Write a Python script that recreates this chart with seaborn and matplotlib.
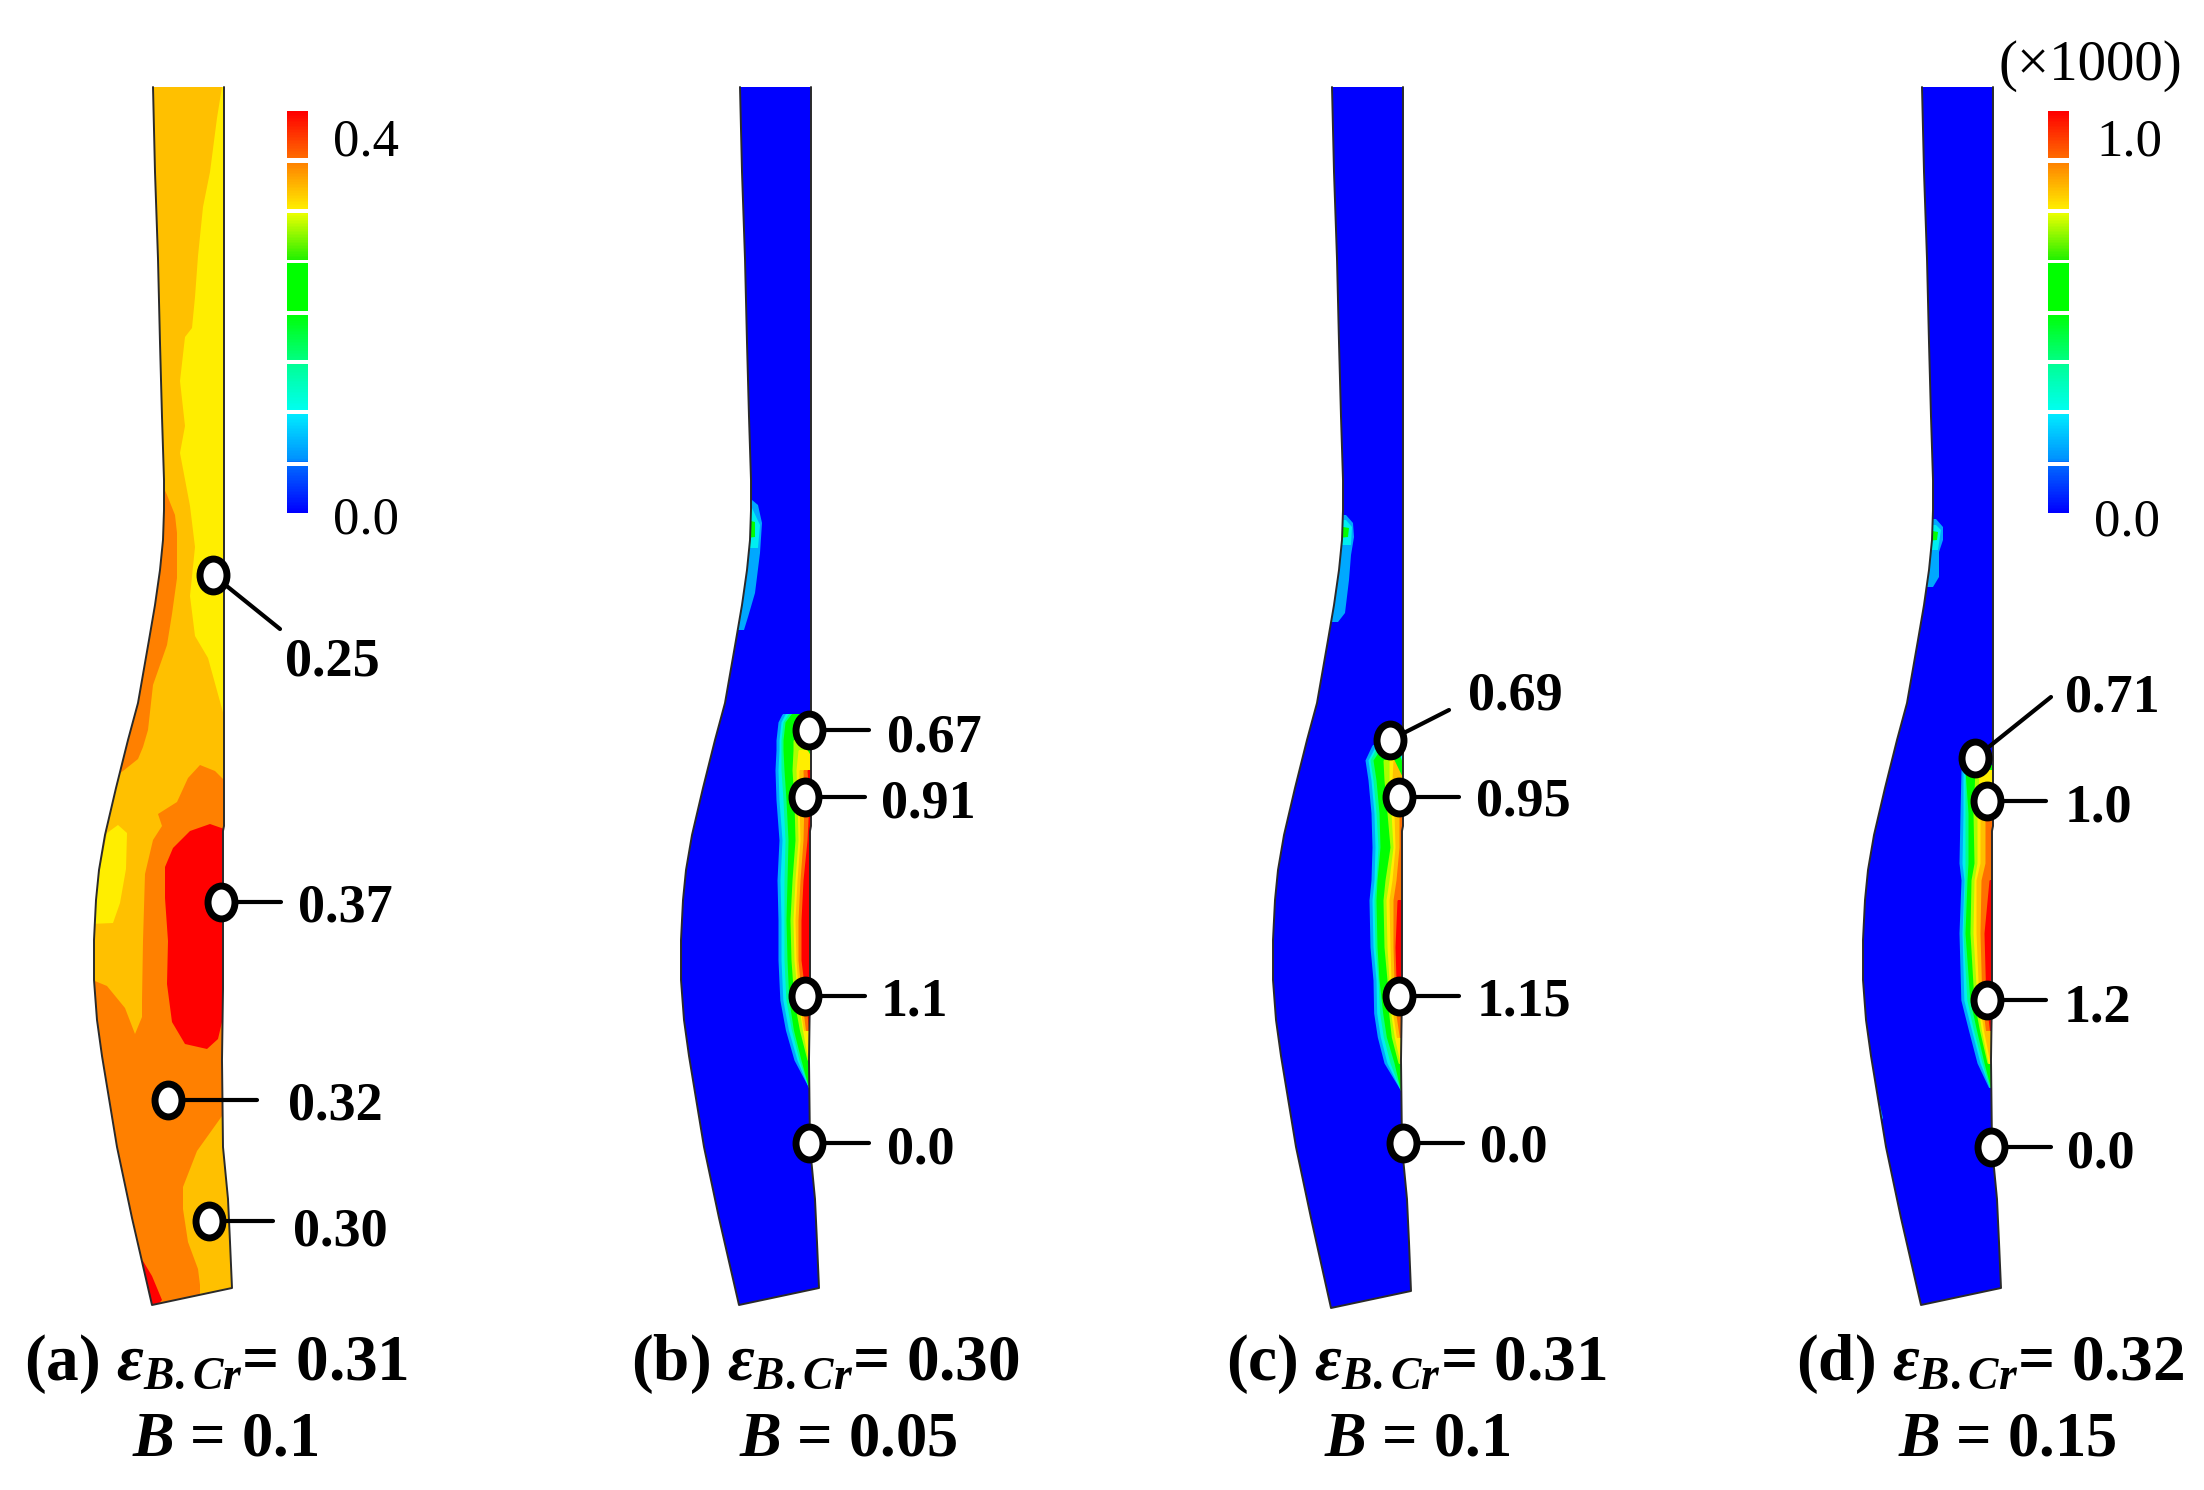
import numpy as np
import pandas as pd
import seaborn as sns
from matplotlib import pyplot as plt
from matplotlib.colors import LinearSegmentedColormap
from matplotlib.patches import Polygon
from matplotlib.path import Path
from matplotlib.transforms import Affine2D

W, H = 2204, 1490

### specimen outline, pixel coordinates of panel (a)
left_x = [153, 155, 158, 160, 162, 164, 164, 163, 160, 155, 149, 138, 128, 116, 105, 99, 96, 94, 94, 97, 102, 117, 132, 152]
left_y = [87, 172, 259, 343, 417, 480, 510, 540, 570, 605, 640, 703, 740, 788, 835, 870, 900, 940, 980, 1020, 1056, 1147, 1218, 1305]
right_x = [224, 224, 223, 223, 222, 223, 228, 230, 232]
right_y = [87, 826, 831, 989, 1060, 1147, 1199, 1242, 1288]
panel_dx = [0, 587, 1179, 1769]
panel_bottom_dy = [0, 0, 3, 0]

### panel (a) contour regions
AMBER, YELLOW, ORANGE, RED, BLUE = '#FFC000', '#FFEE00', '#FF8000', '#FF0000', '#0000FF'
a_regions = [
    (YELLOW, [(222, 87), (217, 118), (210, 172), (203, 207), (198, 256), (195, 297), (192, 328), (185, 337), (180, 381),
              (185, 426), (180, 453), (190, 506), (195, 547), (190, 596), (195, 636), (208, 658), (224, 716), (232, 716), (232, 87)]),
    (ORANGE, [(160, 480), (167, 495), (175, 515), (177, 533), (177, 578), (172, 614), (167, 645), (153, 685), (148, 730),
              (143, 747), (138, 759), (123, 771), (110, 780), (90, 780), (90, 480)]),
    (ORANGE, [(232, 788), (215, 771), (200, 765), (188, 778), (177, 802), (158, 814), (162, 826), (153, 840), (145, 874),
              (143, 941), (142, 1001), (142, 1017), (135, 1034), (125, 1008), (107, 986), (90, 979), (90, 1320), (200, 1320),
              (200, 1285), (198, 1269), (188, 1242), (183, 1209), (183, 1187), (197, 1151), (222, 1116), (232, 1100)]),
    (RED, [(230, 831), (210, 824), (190, 831), (173, 848), (165, 867), (165, 898), (168, 941), (167, 984), (172, 1022),
           (185, 1044), (207, 1049), (218, 1039), (222, 1022), (230, 1000)]),
    (YELLOW, [(90, 879), (98, 879), (107, 833), (118, 825), (127, 833), (126, 869), (120, 903), (113, 923), (90, 924)]),
    (RED, [(143, 1261), (152, 1276), (162, 1300), (153, 1310), (140, 1310)]),
]

### hot band of panels (b)-(d): width measured inwards from the right edge
band_colors = ['#00A8FF', '#00EEF0', '#00FF90', '#00FF00', '#A8FF00', '#FFEE00', '#FFC000', '#FF7000', '#FF0000']
b_band_y = [714, 722, 740, 750, 770, 800, 840, 880, 920, 960, 1000, 1030, 1060, 1087]
b_band_w = [
    [29, 33, 35, 35, 36, 35, 31, 33, 32, 32, 30, 24, 15, 1],
    [26, 30, 32, 32, 33, 32, 28, 30, 29, 29, 27, 21, 12, 1],
    [23, 28, 30, 30, 30, 28, 25, 26, 26, 26, 24, 18, 10, 1],
    [20, 26, 28, 28, 27, 25, 22, 23, 24, 23, 21, 16, 8, 1],
    [0, 0, 18, 18, 19, 17, 15, 18, 20, 19, 16, 10, 2, 0],
    [0, 0, 0, 13, 15, 14, 12, 15, 17, 16, 12, 7, 1, 0],
    [0, 0, 0, 0, 12, 12, 10, 13, 15, 14, 11, 6, 0, 0],
    [0, 0, 0, 0, 8, 7, 7, 10, 12, 12, 8, 4, 0, 0],
    [0, 0, 0, 0, 4, 2, 3, 7, 9, 9, 4, 1, 0, 0],
]
c_band_y = [745, 760, 780, 813, 847, 880, 900, 947, 980, 1013, 1037, 1063, 1090]
c_band_w = [
    [31, 38, 35, 32, 30, 31, 33, 32, 29, 28, 24, 17, 1],
    [27, 35, 32, 29, 27, 28, 30, 29, 26, 25, 21, 14, 1],
    [25, 33, 30, 27, 24, 26, 28, 27, 24, 22, 18, 11, 1],
    [20, 30, 27, 24, 22, 25, 26, 25, 23, 19, 15, 7, 1],
    [0, 20, 19, 16, 12, 17, 19, 18, 15, 13, 10, 3, 0],
    [0, 14, 14, 12, 9, 13, 16, 15, 13, 11, 7, 1, 0],
    [0, 10, 11, 9, 7, 10, 13, 12, 11, 9, 5, 0, 0],
    [0, 0, 6, 4, 3, 6, 9, 9, 8, 6, 2, 0, 0],
    [0, 0, 0, 0, 0, 0, 5, 7, 6, 3, 0, 0, 0],
]
d_band_y = [765, 770, 813, 863, 880, 933, 1000, 1030, 1063, 1087]
d_band_w = [
    [20, 32, 33, 33, 31, 33, 31, 23, 14, 3],
    [17, 30, 30, 30, 28, 30, 28, 20, 11, 2],
    [14, 28, 28, 27, 27, 29, 25, 18, 9, 2],
    [10, 28, 25, 24, 25, 27, 22, 15, 7, 1],
    [0, 18, 20, 18, 21, 22, 18, 12, 4, 0],
    [0, 14, 16, 15, 18, 19, 15, 10, 3, 0],
    [0, 0, 13, 12, 16, 16, 13, 8, 1, 0],
    [0, 0, 8, 7, 11, 12, 10, 6, 0, 0],
    [0, 0, 0, 0, 3, 8, 6, 2, 0, 0],
]

### small spots near the shoulder, and the cold wedge at the top of the band
b_spots = [
    ('#00A8FF', [(752, 500), (758, 505), (762, 523), (760, 553), (755, 593), (748, 617), (744, 630), (730, 630), (730, 500)]),
    ('#00EEF0', [(752, 508), (760, 525), (758, 548), (730, 548), (730, 508)]),
    ('#00FF00', [(730, 516), (755, 522), (755, 537), (730, 540)]),
    ('#00FF00', [(800, 738), (815, 738), (815, 762)]),
    ('#00EEF0', [(806, 738), (815, 738), (815, 752)]),
]
c_spots = [
    ('#00A8FF', [(1346, 515), (1353, 523), (1354, 537), (1351, 555), (1349, 580), (1345, 613), (1338, 622), (1320, 622), (1320, 515)]),
    ('#00EEF0', [(1346, 520), (1352, 527), (1351, 545), (1320, 545), (1320, 520)]),
    ('#00FF00', [(1320, 523), (1349, 528), (1348, 537), (1320, 540)]),
    ('#00FF00', [(1392, 755), (1408, 755), (1408, 788)]),
    ('#00EEF0', [(1400, 755), (1408, 755), (1408, 778)]),
]
d_spots = [
    ('#00A8FF', [(1936, 519), (1943, 527), (1943, 540), (1939, 552), (1939, 577), (1933, 587), (1915, 587), (1915, 519)]),
    ('#00EEF0', [(1936, 525), (1941, 530), (1938, 550), (1915, 550), (1915, 525)]),
    ('#00FF00', [(1915, 528), (1938, 532), (1937, 540), (1915, 542)]),
    ('#00A8FF', [(1870, 1105), (1880, 1105), (1883, 1118), (1881, 1121), (1870, 1121)]),
]

### probes: marker, end of leader line, value label
probe_x = [[213, 221, 168, 209], [809, 805, 805, 809], [1390, 1399, 1399, 1403], [1975, 1987, 1987, 1991]]
probe_y = [[575, 902, 1100, 1221], [730, 797, 996, 1143], [740, 797, 996, 1143], [758, 801, 1000, 1147]]
leader_x = [[280, 281, 257, 273], [869, 865, 865, 869], [1449, 1459, 1459, 1463], [2051, 2046, 2046, 2051]]
leader_y = [[629, 902, 1100, 1221], [730, 797, 996, 1143], [710, 797, 996, 1143], [697, 801, 1000, 1147]]
value_text = [['0.25', '0.37', '0.32', '0.30'], ['0.67', '0.91', '1.1', '0.0'],
              ['0.69', '0.95', '1.15', '0.0'], ['0.71', '1.0', '1.2', '0.0']]
value_x = [[332, 345, 335, 340], [934, 928, 914, 921], [1515, 1523, 1524, 1514], [2112, 2098, 2097, 2101]]
value_y = [[675, 922, 1119, 1246], [751, 817, 1016, 1163], [710, 816, 1015, 1162], [711, 821, 1021, 1167]]

### captions
captions = [r'(a) $\varepsilon_{B.Cr}$= 0.31', r'(b) $\varepsilon_{B.Cr}$= 0.30', r'(c) $\varepsilon_{B.Cr}$= 0.31', r'(d) $\varepsilon_{B.Cr}$= 0.32']
caption_x = [216, 825, 1416, 1990]
b_text = [r'$B$ = 0.1', r'$B$ = 0.05', r'$B$ = 0.1', r'$B$ = 0.15']
b_x = [225, 848, 1417, 2007]

### colour scale
scale_stops = [0, .125, .13, .25, .255, .375, .38, .5, .625, .63, .75, .755, .875, .88, 1]
scale_colors = ['#0000FF', '#0070FF', '#0090FF', '#00F0FF', '#00FFF0', '#00FF90', '#00FF80', '#00FF00', '#00FF00',
                '#20F000', '#F0FF00', '#FFF000', '#FF8000', '#FF7000', '#FF0000']
scale_gaps = [(158, 163), (209, 213), (260, 263), (311, 315), (360, 364), (410, 414), (462, 466)]
scale_top, scale_bottom = 111, 513

sns.set_theme(style='white')
plt.rcParams['font.family'] = ['Liberation Serif', 'DejaVu Serif']
plt.rcParams['mathtext.fontset'] = 'custom'
plt.rcParams['mathtext.rm'] = 'Liberation Serif:bold'
plt.rcParams['mathtext.it'] = 'Liberation Serif:italic:bold'
plt.rcParams['mathtext.bf'] = 'Liberation Serif:bold'

fig = plt.figure(figsize=(W / 100, H / 100), dpi=100)
ax = fig.add_axes([0, 0, 1, 1])

probe_marker = Path.unit_circle().transformed(Affine2D().scale(0.82, 1))
scale_cmap = LinearSegmentedColormap.from_list('fe_scale', list(zip(scale_stops, scale_colors)))


def draw_outline(dx, bottom_dy, base):
    ly = left_y[:-1] + [left_y[-1] + bottom_dy]
    ry = right_y[:-1] + [right_y[-1] + bottom_dy]
    xs = [x + dx for x in left_x] + [x + dx for x in right_x[::-1]]
    ys = ly + ry[::-1]
    shape = Polygon(np.column_stack([xs, ys]), closed=True, facecolor=base, edgecolor='none', zorder=1)
    ax.add_patch(shape)
    return shape, xs, ys


def draw_band(dx, ys, widths, shape):
    edge = np.interp(ys, right_y, right_x) + dx
    for color, w in zip(band_colors, widths):
        coll = ax.fill_betweenx(ys, edge - np.array(w), edge + 4, where=np.array(w) > 0, color=color, lw=0, zorder=2)
        coll.set_clip_path(shape)


bands = [None, (b_band_y, b_band_w, b_spots), (c_band_y, c_band_w, c_spots), (d_band_y, d_band_w, d_spots)]
for i, dx in enumerate(panel_dx):
    shape, xs, ys = draw_outline(dx, panel_bottom_dy[i], AMBER if i == 0 else BLUE)
    if i == 0:
        regions = a_regions
    else:
        draw_band(dx, bands[i][0], bands[i][1], shape)
        regions = bands[i][2]
    for color, pts in regions:
        p = Polygon(pts, closed=True, facecolor=color, edgecolor='none', zorder=3)
        ax.add_patch(p)
        p.set_clip_path(shape)
    # open outline, the cut at the top has no edge line
    ax.plot(xs, ys, color='#2a2a2a', lw=1.4, zorder=4)

    for px, py, lx, ly in zip(probe_x[i], probe_y[i], leader_x[i], leader_y[i]):
        seg = pd.DataFrame({'x': [px, lx], 'y': [py, ly]})
        sns.lineplot(data=seg, x='x', y='y', color='black', lw=3, sort=False, estimator=None, ax=ax, zorder=5)
    probes = pd.DataFrame({'x': probe_x[i], 'y': probe_y[i]})
    sns.scatterplot(data=probes, x='x', y='y', marker=probe_marker, s=560, color='white', edgecolor='black', linewidth=5, ax=ax, zorder=6)

    for t, x, y in zip(value_text[i], value_x[i], value_y[i]):
        ax.text(x, y, t, fontsize=39, fontweight='bold', ha='center', va='baseline', color='black')
    ax.text(caption_x[i], 1380, captions[i], fontsize=47, fontweight='bold', ha='center', va='baseline', color='black')
    ax.text(b_x[i], 1456, b_text[i], fontsize=45, fontweight='bold', ha='center', va='baseline', color='black')

ax.set_xlim(0, W)
ax.set_ylim(H, 0)
ax.axis('off')

# colour bars as one column heatmaps, the gaps are masked rows
ramp = np.linspace(1, 0, scale_bottom - scale_top).reshape(-1, 1)
rows = np.arange(scale_top, scale_bottom)
gap_mask = np.zeros_like(ramp, dtype=bool)
for g0, g1 in scale_gaps:
    gap_mask[(rows >= g0) & (rows < g1)] = True
for x0, x1 in [(287, 308), (2048, 2069)]:
    cax = fig.add_axes([x0 / W, 1 - scale_bottom / H, (x1 - x0) / W, (scale_bottom - scale_top) / H])
    sns.heatmap(ramp, mask=gap_mask, cmap=scale_cmap, vmin=0, vmax=1, cbar=False, xticklabels=False, yticklabels=False, ax=cax)

for t, x, y, fs in [('0.4', 366, 155, 38), ('0.0', 366, 534, 38), ('1.0', 2129, 155, 38), ('0.0', 2127, 535, 38), ('(×1000)', 2090, 80, 41)]:
    ax.text(x, y, t, fontsize=fs, ha='center', va='baseline', color='black')

fig.savefig('out.png', dpi=100)
